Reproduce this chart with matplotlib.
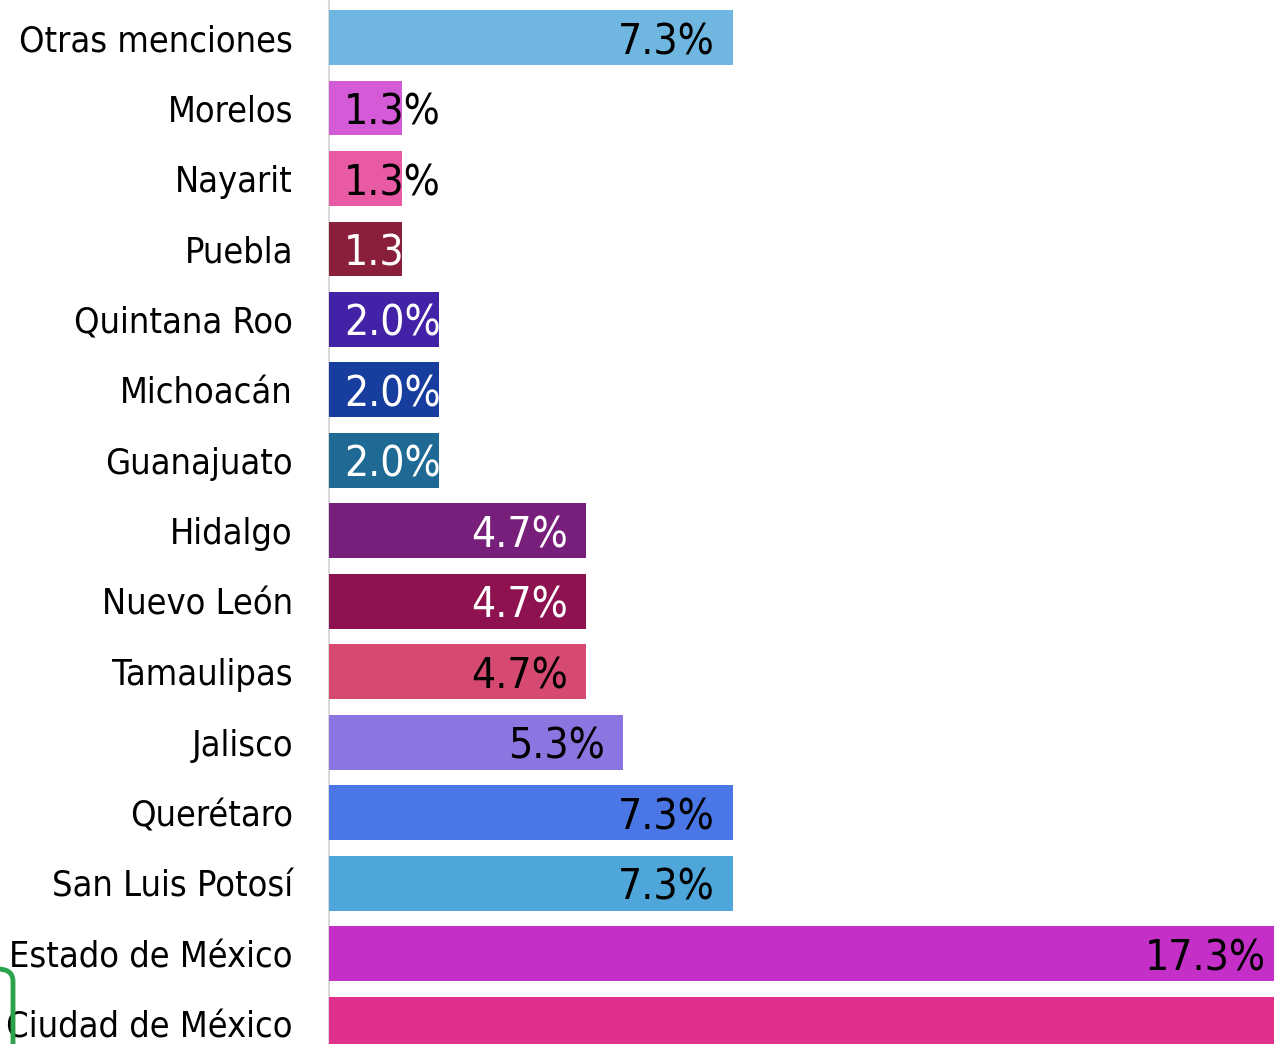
import matplotlib
matplotlib.use('Agg')
from matplotlib import pyplot as plt
from matplotlib.patches import FancyBboxPatch
import matplotlib.colors as mcolors

plt.rcParams['font.family'] = ['DejaVu Sans Condensed', 'DejaVu Sans']
plt.rcParams['font.stretch'] = 'condensed'

estados = ['Otras menciones', 'Morelos', 'Nayarit', 'Puebla', 'Quintana Roo',
           'Michoacán', 'Guanajuato', 'Hidalgo', 'Nuevo León', 'Tamaulipas',
           'Jalisco', 'Querétaro', 'San Luis Potosí', 'Estado de México',
           'Ciudad de México']
porcentajes = [7.33, 1.33, 1.33, 1.33, 2.0, 2.0, 2.0, 4.67, 4.67, 4.67,
               5.33, 7.33, 7.33, 17.33, 31.33]
colores = ['#6fb7e1', '#d45ad8', '#e85aa3', '#8a1f3c', '#4422a8',
           '#173e9e', '#1e6a94', '#771f7a', '#8e1150', '#d64a72',
           '#8b75e0', '#4a76e6', '#4fa6da', '#c42fc8', '#e0308c']

fig = plt.figure(figsize=(12.74, 10.44), dpi=100)
ax = fig.add_axes([329 / 1274, 0, 945 / 1274, 1])

y = list(range(len(estados)))
ax.barh(y, porcentajes, height=0.78, color=colores, zorder=3)

ax.set_xlim(0, 945 / 55.1)
ax.set_ylim(14.277, -0.532)

ax.set_yticks(y)
ax.set_yticklabels(estados, fontsize=25.9)
ax.tick_params(axis='y', length=0, pad=26)
ax.set_xticks([])
for s in ['top', 'right', 'bottom']:
    ax.spines[s].set_visible(False)
ax.spines['left'].set_color('#d9d9d9')
ax.spines['left'].set_linewidth(1.5)

def luminance(c):
    r, g, b = mcolors.to_rgb(c)
    return 255 * (0.299 * r + 0.587 * g + 0.114 * b)

xmax = ax.get_xlim()[1]
for i, (v, c) in enumerate(zip(porcentajes, colores)):
    txt = f'{v:.1f}%'
    tc = 'white' if luminance(c) < 100 else 'black'
    if v > xmax * 1.2:
        # label falls outside the visible crop
        continue
    if v > 3:
        ax.annotate(txt, (v, i), xytext=(-13, 0), textcoords='offset points',
                    ha='right', va='center_baseline', fontsize=30.5, color=tc,
                    zorder=4, annotation_clip=False)
    else:
        ax.annotate(txt, (0, i), xytext=(11, 0), textcoords='offset points',
                    ha='left', va='center_baseline', fontsize=30.5, color=tc,
                    zorder=4, annotation_clip=False)

# green selection outline at bottom left
box = FancyBboxPatch((-0.2, -0.1), 0.2 + 13 / 1274, 0.1 + 75 / 1044,
                     boxstyle='round,pad=0,rounding_size=0.012',
                     transform=fig.transFigure, fill=False,
                     edgecolor='#2ca24a', linewidth=3.5, zorder=5)
fig.patches.append(box)

plt.savefig('out.png', dpi=100)
